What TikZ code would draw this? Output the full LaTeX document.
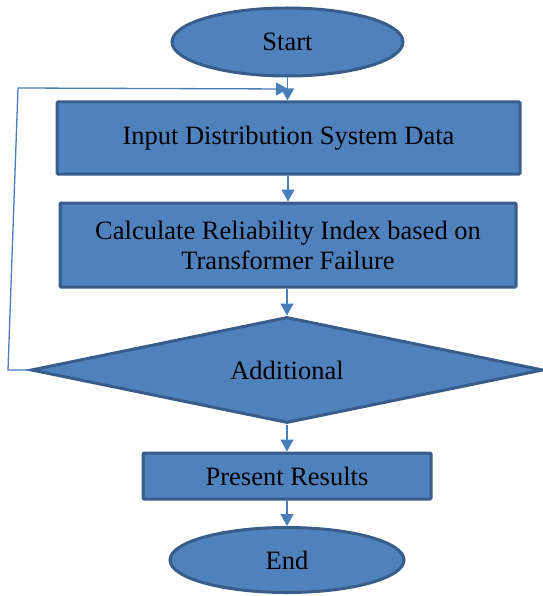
\documentclass[tikz,border=0pt]{standalone}
\usepackage{fontspec}
\setmainfont{Liberation Serif}
\usetikzlibrary{shapes.geometric,arrows.meta}
\definecolor{boxfill}{HTML}{4F81BD}
\definecolor{boxline}{HTML}{385D8A}
\definecolor{connc}{HTML}{4A7EBB}
\begin{document}
\begin{tikzpicture}[x=1pt,y=-1pt,
  shapebase/.style={fill=boxfill,draw=boxline,line width=3pt,inner sep=0pt,
    font=\fontsize{26.5}{30}\selectfont,text=black},
  term/.style={shapebase,ellipse},
  procbox/.style={shapebase,rectangle,rounded corners=1pt,align=center},
  decision/.style={shapebase,diamond,aspect=5},
  connector/.style={draw=connc,line width=1.6pt,-{Triangle[length=12pt,width=13pt]}},
  ]
\useasboundingbox (0,0) rectangle (542,596);
\node[term,minimum width=231pt,minimum height=68pt] (start) at (287.5,42) {Start};
\node[procbox,minimum width=463pt,minimum height=72pt] (input) at (288.5,138) {Input Distribution System Data};
\node[procbox,minimum width=456pt,minimum height=84pt] (calc) at (288,245)
  {Calculate Reliability Index based on\\Transformer Failure};
\node[decision,minimum width=512pt,minimum height=106pt] (add) at (287,370) {Additional};
\node[procbox,minimum width=288pt,minimum height=46pt] (present) at (287,476) {Present Results};
\node[term,minimum width=234pt,minimum height=65pt] (end) at (287,560) {End};

\coordinate (fbA) at (8,370);
\coordinate (fbB) at (18,88);
\coordinate (fbC) at (288,89);

\draw[connector] (start.south) -- (start.south |- input.north);
\draw[connector] (input.south -| calc.north) -- (calc.north);
\draw[connector] (calc.south -| add.north) -- (add.north);
\draw[connector] (add.south) -- (add.south |- present.north);
\draw[connector] (present.south) -- (end.north);
\draw[connector,line width=1.3pt] (add.west) -- (fbA) -- (fbB) -- (fbC);
\end{tikzpicture}
\end{document}
